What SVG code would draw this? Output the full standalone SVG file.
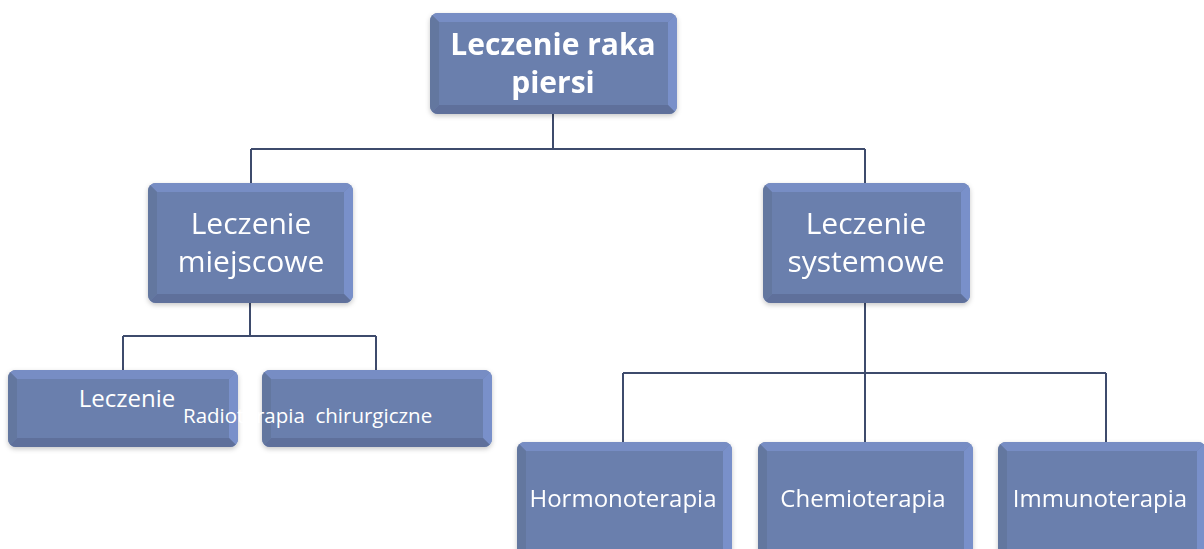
<svg xmlns="http://www.w3.org/2000/svg" width="1204" height="549" viewBox="0 0 1204 549">
  <style>
    .face { fill: #6a7fad; }
    .bt { fill: #778dc4; }
    .br { fill: #7990ca; }
    .bb { fill: #5e709b; }
    .bl { fill: #64779f; }
    .lbl { fill: #ffffff; font-family: "Open Sans", "Noto Sans", sans-serif; text-anchor: middle; }
    .lg { font-size: 30px; }
    .sm { font-size: 24px; }
    .xs { font-size: 20.5px; white-space: pre; text-anchor: start; }
    .hd { font-size: 30px; font-weight: bold; }
    .wire { fill: none; stroke: #3e4b6c; stroke-width: 2; }
  </style>
  <defs>
    <filter id="soft" x="-10%" y="-10%" width="120%" height="130%">
      <feDropShadow dx="0" dy="2" stdDeviation="2.5" flood-color="#000" flood-opacity="0.22"/>
    </filter>
    <clipPath id="c1"><rect x="430" y="13" width="247" height="101" rx="8"/></clipPath>
    <clipPath id="c2"><rect x="148" y="183" width="205" height="120" rx="8"/></clipPath>
    <clipPath id="c3"><rect x="763" y="183" width="207" height="120" rx="8"/></clipPath>
    <clipPath id="c4"><rect x="8" y="370" width="230" height="77" rx="8"/></clipPath>
    <clipPath id="c5"><rect x="262" y="370" width="230" height="77" rx="8"/></clipPath>
    <clipPath id="c6"><rect x="517" y="442" width="215" height="120" rx="8"/></clipPath>
    <clipPath id="c7"><rect x="758" y="442" width="215" height="120" rx="8"/></clipPath>
    <clipPath id="c8"><rect x="998" y="442" width="208" height="120" rx="8"/></clipPath>
  </defs>

  <rect width="1204" height="549" fill="#ffffff"/>

  <!-- connectors -->
  <g id="connectors">
    <path class="wire" d="M553,114 V149 M251,149 H865 M251,149 V183 M865,149 V183"/>
    <path class="wire" d="M250,303 V336 M123,336 H376 M123,336 V370 M376,336 V370"/>
    <path class="wire" d="M865,303 V373 M623,373 H1106 M623,373 V442 M865,373 V442 M1106,373 V442"/>
  </g>

  <!-- root -->
  <g id="node-root" filter="url(#soft)">
    <g clip-path="url(#c1)">
      <rect class="face" x="430" y="13" width="247" height="101"/>
      <polygon class="bt" points="430,13 677,13 668,22 439,22"/>
      <polygon class="br" points="677,13 677,114 668,105 668,22"/>
      <polygon class="bb" points="430,114 677,114 668,105 439,105"/>
      <polygon class="bl" points="430,13 430,114 439,105 439,22"/>
    </g>
    <text class="lbl hd" x="553" y="55">Leczenie raka</text>
    <text class="lbl hd" x="553" y="93">piersi</text>
  </g>

  <!-- local treatment -->
  <g id="node-local" filter="url(#soft)">
    <g clip-path="url(#c2)">
      <rect class="face" x="148" y="183" width="205" height="120"/>
      <polygon class="bt" points="148,183 353,183 344,192 157,192"/>
      <polygon class="br" points="353,183 353,303 344,294 344,192"/>
      <polygon class="bb" points="148,303 353,303 344,294 157,294"/>
      <polygon class="bl" points="148,183 148,303 157,294 157,192"/>
    </g>
    <text class="lbl lg" x="251" y="234">Leczenie</text>
    <text class="lbl lg" x="251" y="272">miejscowe</text>
  </g>

  <!-- systemic treatment -->
  <g id="node-systemic" filter="url(#soft)">
    <g clip-path="url(#c3)">
      <rect class="face" x="763" y="183" width="207" height="120"/>
      <polygon class="bt" points="763,183 970,183 961,192 772,192"/>
      <polygon class="br" points="970,183 970,303 961,294 961,192"/>
      <polygon class="bb" points="763,303 970,303 961,294 772,294"/>
      <polygon class="bl" points="763,183 763,303 772,294 772,192"/>
    </g>
    <text class="lbl lg" x="866" y="234">Leczenie</text>
    <text class="lbl lg" x="866" y="272">systemowe</text>
  </g>

  <!-- surgery -->
  <g id="node-surgery" filter="url(#soft)">
    <g clip-path="url(#c4)">
      <rect class="face" x="8" y="370" width="230" height="77"/>
      <polygon class="bt" points="8,370 238,370 229,379 17,379"/>
      <polygon class="br" points="238,370 238,447 229,438 229,379"/>
      <polygon class="bb" points="8,447 238,447 229,438 17,438"/>
      <polygon class="bl" points="8,370 8,447 17,438 17,379"/>
    </g>
  </g>

  <!-- radiotherapy -->
  <g id="node-radio" filter="url(#soft)">
    <g clip-path="url(#c5)">
      <rect class="face" x="262" y="370" width="230" height="77"/>
      <polygon class="bt" points="262,370 492,370 483,379 271,379"/>
      <polygon class="br" points="492,370 492,447 483,438 483,379"/>
      <polygon class="bb" points="262,447 492,447 483,438 271,438"/>
      <polygon class="bl" points="262,370 262,447 271,438 271,379"/>
    </g>
  </g>

  <!-- labels of the two local boxes -->
  <g id="labels-local">
    <text class="lbl sm" x="127" y="407">Leczenie</text>
    <text class="lbl xs" x="183" y="423">Radioterapia  chirurgiczne</text>
  </g>

  <!-- hormonotherapy -->
  <g id="node-hormono" filter="url(#soft)">
    <g clip-path="url(#c6)">
      <rect class="face" x="517" y="442" width="215" height="120"/>
      <polygon class="bt" points="517,442 732,442 723,451 526,451"/>
      <polygon class="br" points="732,442 732,562 723,553 723,451"/>
      <polygon class="bl" points="517,442 517,562 526,553 526,451"/>
    </g>
    <text class="lbl sm" x="623" y="507">Hormonoterapia</text>
  </g>

  <!-- chemotherapy -->
  <g id="node-chemo" filter="url(#soft)">
    <g clip-path="url(#c7)">
      <rect class="face" x="758" y="442" width="215" height="120"/>
      <polygon class="bt" points="758,442 973,442 964,451 767,451"/>
      <polygon class="br" points="973,442 973,562 964,553 964,451"/>
      <polygon class="bl" points="758,442 758,562 767,553 767,451"/>
    </g>
    <text class="lbl sm" x="863" y="507">Chemioterapia</text>
  </g>

  <!-- immunotherapy -->
  <g id="node-immuno" filter="url(#soft)">
    <g clip-path="url(#c8)">
      <rect class="face" x="998" y="442" width="208" height="120"/>
      <polygon class="bt" points="998,442 1206,442 1197,451 1007,451"/>
      <polygon class="br" points="1206,442 1206,562 1197,553 1197,451"/>
      <polygon class="bl" points="998,442 998,562 1007,553 1007,451"/>
    </g>
    <text class="lbl sm" x="1100" y="507">Immunoterapia</text>
  </g>
</svg>
